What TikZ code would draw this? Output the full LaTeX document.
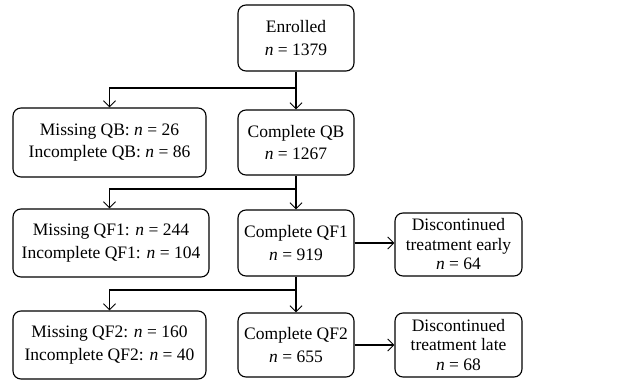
\documentclass[tikz,border=0pt]{standalone}
\usepackage{fontspec}
\setmainfont{Liberation Serif}
\usetikzlibrary{arrows.meta}
\begin{document}
\begin{tikzpicture}[x=1pt,y=1pt,
  box/.style={draw,line width=1.1pt,rounded corners=8pt,align=center,inner sep=0pt,font=\fontsize{17.5}{22.5}\selectfont},
  box3/.style={box,font=\fontsize{17.5}{19.5}\selectfont},
  conn/.style={line width=1.1pt},
  arr/.style={conn,-{Straight Barb[length=6pt,width=12pt,line width=1pt]}}]
\useasboundingbox (0,0) rectangle (625,-381);
\node[box,minimum width=116pt,minimum height=66pt] (enr) at (296,-38) {Enrolled\\\textit{n} = 1379};
\node[box,minimum width=193pt,minimum height=69pt] (mqb) at (109.5,-142.5) {Missing QB: \textit{n} = 26\\Incomplete QB: \textit{n} = 86};
\node[box,minimum width=116pt,minimum height=65pt] (cqb) at (296,-142.5) {Complete QB\\\textit{n} = 1267};
\node[box,minimum width=196pt,minimum height=68pt] (mqf1) at (111,-243) {Missing QF1: \textit{n} = 244\\Incomplete QF1: \textit{n} = 104};
\node[box,minimum width=116pt,minimum height=66pt] (cqf1) at (296,-243) {Complete QF1\\\textit{n} = 919};
\node[box3,minimum width=127pt,minimum height=63pt] (de) at (458.5,-244.5) {Discontinued\\treatment early\\\textit{n} = 64};
\node[box,minimum width=193pt,minimum height=68pt] (mqf2) at (109.5,-345) {Missing QF2: \textit{n} = 160\\Incomplete QF2: \textit{n} = 40};
\node[box,minimum width=116pt,minimum height=64pt] (cqf2) at (296,-345) {Complete QF2\\\textit{n} = 655};
\node[box3,minimum width=127pt,minimum height=64pt] (dl) at (458.5,-345) {Discontinued\\treatment late\\\textit{n} = 68};
\coordinate (j1) at (296,-88);
\coordinate (j2) at (296,-189);
\coordinate (j3) at (296,-290);
\draw[conn] (enr.south) -- (j1);
\draw[arr] (j1) -- (cqb.north);
\draw[arr] (j1) -| (mqb.north);
\draw[conn] (cqb.south) -- (j2);
\draw[arr] (j2) -- (cqf1.north);
\draw[arr] (j2) -| (mqb.north |- mqf1.north);
\draw[conn] (cqf1.south) -- (j3);
\draw[arr] (j3) -- (cqf2.north);
\draw[arr] (j3) -| (mqf2.north);
\draw[arr] (cqf1.east) -- (cqf1.east -| de.west);
\draw[arr] (cqf2.east) -- (dl.west);
\end{tikzpicture}
\end{document}
